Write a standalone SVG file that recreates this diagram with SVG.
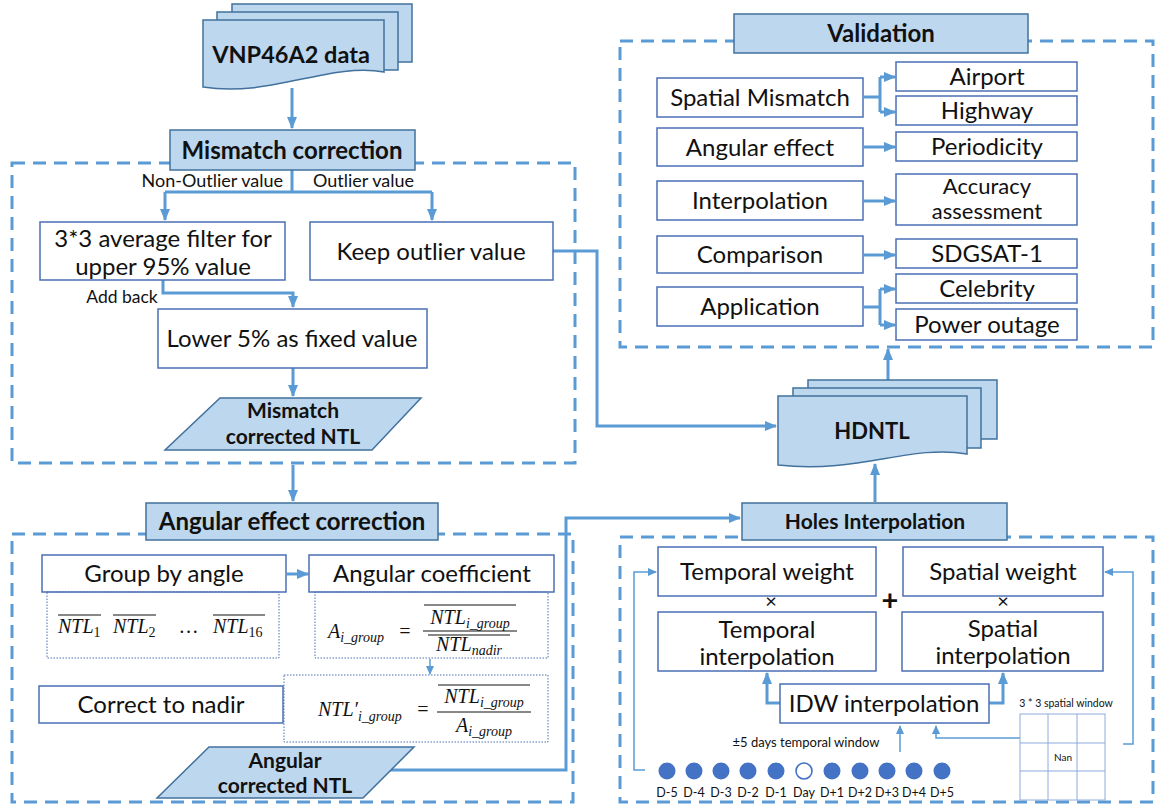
<svg xmlns="http://www.w3.org/2000/svg" width="1158" height="807" viewBox="0 0 1158 807">
<defs>
<style>
.box{fill:#fff;stroke:#4A6FB5;stroke-width:1.5}
.hdr{fill:#BDD7EE;stroke:#41719C;stroke-width:1.5}
.dash{fill:none;stroke:#5B9BD5;stroke-width:3;stroke-dasharray:13 8}
.dot{fill:none;stroke:#4A6FB5;stroke-width:1;stroke-dasharray:1.5 1.5}
.c{fill:none;stroke:#5B9BD5;stroke-width:3}
.ct{fill:none;stroke:#5B9BD5;stroke-width:1.5}
.t{font-family:Lato,"Liberation Sans",sans-serif;font-size:24px;fill:#111;text-anchor:middle}
.b{font-weight:bold}
.m{font-family:"Liberation Serif",serif;font-style:italic;font-size:20px;fill:#111}
.ms{font-size:14px}
.ol{stroke:#111;stroke-width:1}
.dayc{fill:#4472C4}
</style>
<marker id="a" markerUnits="userSpaceOnUse" markerWidth="12" markerHeight="10" viewBox="0 0 12 10" refX="11" refY="5" orient="auto"><path d="M0,0 L12,5 L0,10 z" fill="#5B9BD5"/></marker>
<marker id="as" markerUnits="userSpaceOnUse" markerWidth="9" markerHeight="8" viewBox="0 0 9 8" refX="8" refY="4" orient="auto"><path d="M0,0 L9,4 L0,8 z" fill="#5B9BD5"/></marker>
</defs>
<rect width="1158" height="807" fill="#fff"/>

<!-- containers -->
<g id="containers">
<rect class="dash" x="12" y="163" width="563" height="300"/>
<rect class="dash" x="12" y="534" width="561" height="268"/>
<rect class="dash" x="620" y="41" width="533" height="306"/>
<rect class="dash" x="620" y="537" width="533" height="265"/>
</g>

<!-- connectors -->
<g id="connectors">
<path class="c" d="M292,88 V128" marker-end="url(#a)"/>
<path class="c" d="M292,170 V192 M165,192 H432"/>
<path class="c" d="M165,192 V220" marker-end="url(#a)"/>
<path class="c" d="M432,192 V220" marker-end="url(#a)"/>
<path class="c" d="M163,280 V293 H293 V307" marker-end="url(#a)"/>
<path class="c" d="M293,368 V396" marker-end="url(#a)"/>
<path class="c" d="M553,251 H597 V426 H776" marker-end="url(#a)"/>
<path class="c" d="M293,465 V501" marker-end="url(#a)"/>
<path class="c" d="M287,574 H308" marker-end="url(#a)"/>
<path class="ct" d="M430,659 V674" marker-end="url(#as)"/>
<path class="c" d="M389,770 H566 V518 H740" marker-end="url(#a)"/>
<path class="c" d="M875,502 V464" marker-end="url(#a)"/>
<path class="c" d="M888,380 V349" marker-end="url(#a)"/>
<!-- validation -->
<path class="c" d="M864,97 H880 M880,77 V112"/>
<path class="c" d="M880,77 H895" marker-end="url(#a)"/>
<path class="c" d="M880,112 H895" marker-end="url(#a)"/>
<path class="c" d="M864,147 H895" marker-end="url(#a)"/>
<path class="c" d="M864,201 H895" marker-end="url(#a)"/>
<path class="c" d="M864,255 H895" marker-end="url(#a)"/>
<path class="c" d="M864,307 H880 M880,289 V325"/>
<path class="c" d="M880,289 H895" marker-end="url(#a)"/>
<path class="c" d="M880,325 H895" marker-end="url(#a)"/>
<!-- holes -->
<path class="c" d="M780,703 H767 V673" marker-end="url(#a)"/>
<path class="c" d="M989,703 H1003 V673" marker-end="url(#a)"/>
<path class="ct" d="M900,752 V726" marker-end="url(#as)"/>
<path class="ct" d="M1020,738 H936 V726" marker-end="url(#as)"/>
<path class="ct" d="M645,770 H634 V572 H656" marker-end="url(#as)"/>
<path class="ct" d="M1123,744 H1133 V572 H1105" marker-end="url(#as)"/>
</g>

<!-- top input -->
<g id="vnp">
<rect class="hdr" x="232" y="4" width="180" height="58"/>
<rect class="hdr" x="217" y="12" width="181" height="58"/>
<path class="hdr" d="M203,20 H384 V72 C330,62 270,98 203,87 Z"/>
<text class="t b" x="291" y="63" style="font-size:23.5px">VNP46A2 data</text>
</g>

<g id="mismatch-title">
<rect class="hdr" x="170" y="130" width="245" height="40"/>
<text class="t b" x="292" y="159">Mismatch correction</text>
</g>
<g id="lbl-split" class="t" style="font-size:18px">
<text x="283" y="187" style="text-anchor:end">Non-Outlier value</text>
<text x="313" y="187" style="text-anchor:start">Outlier value</text>
<text x="122" y="303" style="font-size:17.5px">Add back</text>
</g>
<g id="filter"><rect class="box" x="40" y="222" width="245" height="58"/>
<text class="t" x="163" y="247">3*3 average filter for</text><text class="t" x="163" y="275">upper 95% value</text></g>
<g id="keep"><rect class="box" x="310" y="222" width="243" height="58"/>
<text class="t" x="431" y="260">Keep outlier value</text></g>
<g id="lower"><rect class="box" x="158" y="309" width="269" height="59"/>
<text class="t" x="292" y="347">Lower 5% as fixed value</text></g>
<g id="mismatch-ntl"><path class="hdr" d="M220,398 H421 L372,450 H165 Z"/>
<text class="t b" x="293" y="418" style="font-size:21px">Mismatch</text>
<text class="t b" x="293" y="444" style="font-size:21px">corrected NTL</text></g>

<g id="angular-title">
<rect class="hdr" x="146" y="503" width="292" height="37"/>
<text class="t b" x="292" y="530">Angular effect correction</text>
</g>
<g id="group"><rect class="box" x="42" y="555" width="244" height="37"/>
<text class="t" x="164" y="582">Group by angle</text>
<rect class="dot" x="47" y="592" width="232" height="66"/>
<text class="m" x="58" y="633">NTL<tspan class="ms" font-style="normal" dy="4">1</tspan></text>
<line class="ol" x1="58" y1="615" x2="101" y2="615"/>
<text class="m" x="113" y="633">NTL<tspan class="ms" font-style="normal" dy="4">2</tspan></text>
<line class="ol" x1="113" y1="615" x2="156" y2="615"/>
<text class="m" x="180" y="633" font-style="normal">…</text>
<text class="m" x="213" y="633">NTL<tspan class="ms" font-style="normal" dy="4">16</tspan></text>
<line class="ol" x1="213" y1="615" x2="265" y2="615"/>
</g>
<g id="coef"><rect class="box" x="309" y="555" width="245" height="37"/>
<text class="t" x="432" y="582">Angular coefficient</text>
<rect class="dot" x="315" y="592" width="233" height="66"/>
<text class="m" x="328" y="638">A<tspan class="ms" dy="4">i_group</tspan></text>
<text class="m" x="398" y="638" font-style="normal">=</text>
<text class="m" x="470" y="624" text-anchor="middle">NTL<tspan class="ms" dy="4">i_group</tspan></text>
<line class="ol" x1="424" y1="605" x2="516" y2="605"/>
<line class="ol" x1="423" y1="631" x2="517" y2="631"/>
<text class="m" x="469" y="651" text-anchor="middle">NTL<tspan class="ms" dy="4">nadir</tspan></text>
<line class="ol" x1="428" y1="635" x2="510" y2="635"/>
</g>
<g id="nadir"><rect class="box" x="39" y="686" width="244" height="37"/>
<text class="t" x="161" y="713">Correct to nadir</text>
<rect class="dot" x="284" y="675" width="264" height="67"/>
<text class="m" x="318" y="716">NTL′<tspan class="ms" dy="5">i_group</tspan></text>
<text class="m" x="416" y="716" font-style="normal">=</text>
<text class="m" x="484" y="703" text-anchor="middle">NTL<tspan class="ms" dy="4">i_group</tspan></text>
<line class="ol" x1="438" y1="685" x2="530" y2="685"/>
<line class="ol" x1="437" y1="712" x2="531" y2="712"/>
<text class="m" x="484" y="732" text-anchor="middle">A<tspan class="ms" dy="4">i_group</tspan></text>
</g>
<g id="angular-ntl"><path class="hdr" d="M209,747 H414 L363,798 H157 Z"/>
<text class="t b" x="285" y="768" style="font-size:21px">Angular</text>
<text class="t b" x="285" y="793" style="font-size:21px">corrected NTL</text></g>

<g id="hdntl">
<rect class="hdr" x="808" y="380" width="189" height="59"/>
<rect class="hdr" x="793" y="388" width="188" height="60"/>
<path class="hdr" d="M778,396 H967 V454 C910,444 860,474 778,465 Z"/>
<text class="t b" x="872" y="439" style="font-size:22px">HDNTL</text>
</g>

<g id="validation-title">
<rect class="hdr" x="734" y="14" width="294" height="39"/>
<text class="t b" x="881" y="42">Validation</text>
</g>
<g id="v-left">
<rect class="box" x="657" y="78" width="206" height="39"/><text class="t" x="760" y="106">Spatial Mismatch</text>
<rect class="box" x="657" y="128" width="206" height="38"/><text class="t" x="760" y="156">Angular effect</text>
<rect class="box" x="657" y="181" width="206" height="39"/><text class="t" x="760" y="209">Interpolation</text>
<rect class="box" x="657" y="236" width="206" height="37"/><text class="t" x="760" y="263">Comparison</text>
<rect class="box" x="657" y="287" width="206" height="39"/><text class="t" x="760" y="315">Application</text>
</g>
<g id="v-right">
<rect class="box" x="896" y="62" width="181" height="29"/><text class="t" x="987" y="85">Airport</text>
<rect class="box" x="896" y="96" width="181" height="29"/><text class="t" x="987" y="119">Highway</text>
<rect class="box" x="896" y="132" width="181" height="29"/><text class="t" x="987" y="155">Periodicity</text>
<rect class="box" x="896" y="174" width="181" height="51"/><text class="t" x="987" y="194" style="font-size:22px">Accuracy</text><text class="t" x="987" y="219" style="font-size:22px">assessment</text>
<rect class="box" x="896" y="239" width="181" height="29"/><text class="t" x="987" y="262">SDGSAT-1</text>
<rect class="box" x="896" y="274" width="181" height="29"/><text class="t" x="987" y="297">Celebrity</text>
<rect class="box" x="896" y="309" width="181" height="31"/><text class="t" x="987" y="333">Power outage</text>
</g>

<g id="holes-title">
<rect class="hdr" x="742" y="503" width="265" height="37"/>
<text class="t b" x="875" y="529" style="font-size:21px">Holes Interpolation</text>
</g>
<g id="tw"><rect class="box" x="658" y="547" width="218" height="49"/><text class="t" x="767" y="580">Temporal weight</text></g>
<g id="sw"><rect class="box" x="903" y="547" width="200" height="49"/><text class="t" x="1003" y="580">Spatial weight</text></g>
<g id="ops">
<text class="t" x="771" y="608" style="font-size:20px">×</text>
<text class="t" x="1003" y="608" style="font-size:20px">×</text>
<text class="t b" x="890" y="610" style="font-size:29px">+</text>
</g>
<g id="ti"><rect class="box" x="658" y="612" width="218" height="59"/><text class="t" x="767" y="638">Temporal</text><text class="t" x="767" y="665">interpolation</text></g>
<g id="si"><rect class="box" x="902" y="612" width="201" height="59"/><text class="t" x="1003" y="637">Spatial</text><text class="t" x="1003" y="664">interpolation</text></g>
<g id="idw"><rect class="box" x="780" y="684" width="209" height="39"/><text class="t" x="884" y="712">IDW interpolation</text></g>

<g id="temporal-window">
<text class="t" x="806" y="747" style="font-size:13px">±5 days temporal window</text>
<circle class="dayc" cx="667" cy="771" r="8.5"/>
<circle class="dayc" cx="694" cy="771" r="8.5"/>
<circle class="dayc" cx="721" cy="771" r="8.5"/>
<circle class="dayc" cx="748" cy="771" r="8.5"/>
<circle class="dayc" cx="776" cy="771" r="8.5"/>
<circle cx="804" cy="771" r="8" fill="#fff" stroke="#4472C4" stroke-width="1.6"/>
<circle class="dayc" cx="832" cy="771" r="8.5"/>
<circle class="dayc" cx="860" cy="771" r="8.5"/>
<circle class="dayc" cx="887" cy="771" r="8.5"/>
<circle class="dayc" cx="914" cy="771" r="8.5"/>
<circle class="dayc" cx="942" cy="771" r="8.5"/>
<g class="t" style="font-size:12.5px">
<text x="667" y="797">D-5</text><text x="694" y="797">D-4</text><text x="721" y="797">D-3</text><text x="748" y="797">D-2</text><text x="776" y="797">D-1</text><text x="804" y="797">Day</text><text x="832" y="797">D+1</text><text x="860" y="797">D+2</text><text x="887" y="797">D+3</text><text x="914" y="797">D+4</text><text x="942" y="797">D+5</text>
</g>
</g>

<g id="spatial-window">
<text class="t" x="1066" y="707" style="font-size:10.5px">3 * 3 spatial window</text>
<g fill="none" stroke="#8FAADC" stroke-width="1">
<rect x="1020" y="714" width="85" height="86"/>
<line x1="1048" y1="714" x2="1048" y2="800"/><line x1="1077" y1="714" x2="1077" y2="800"/>
<line x1="1020" y1="743" x2="1105" y2="743"/><line x1="1020" y1="771" x2="1105" y2="771"/>
</g>
<text class="t" x="1063" y="761" style="font-size:10px">Nan</text>
</g>
</svg>
